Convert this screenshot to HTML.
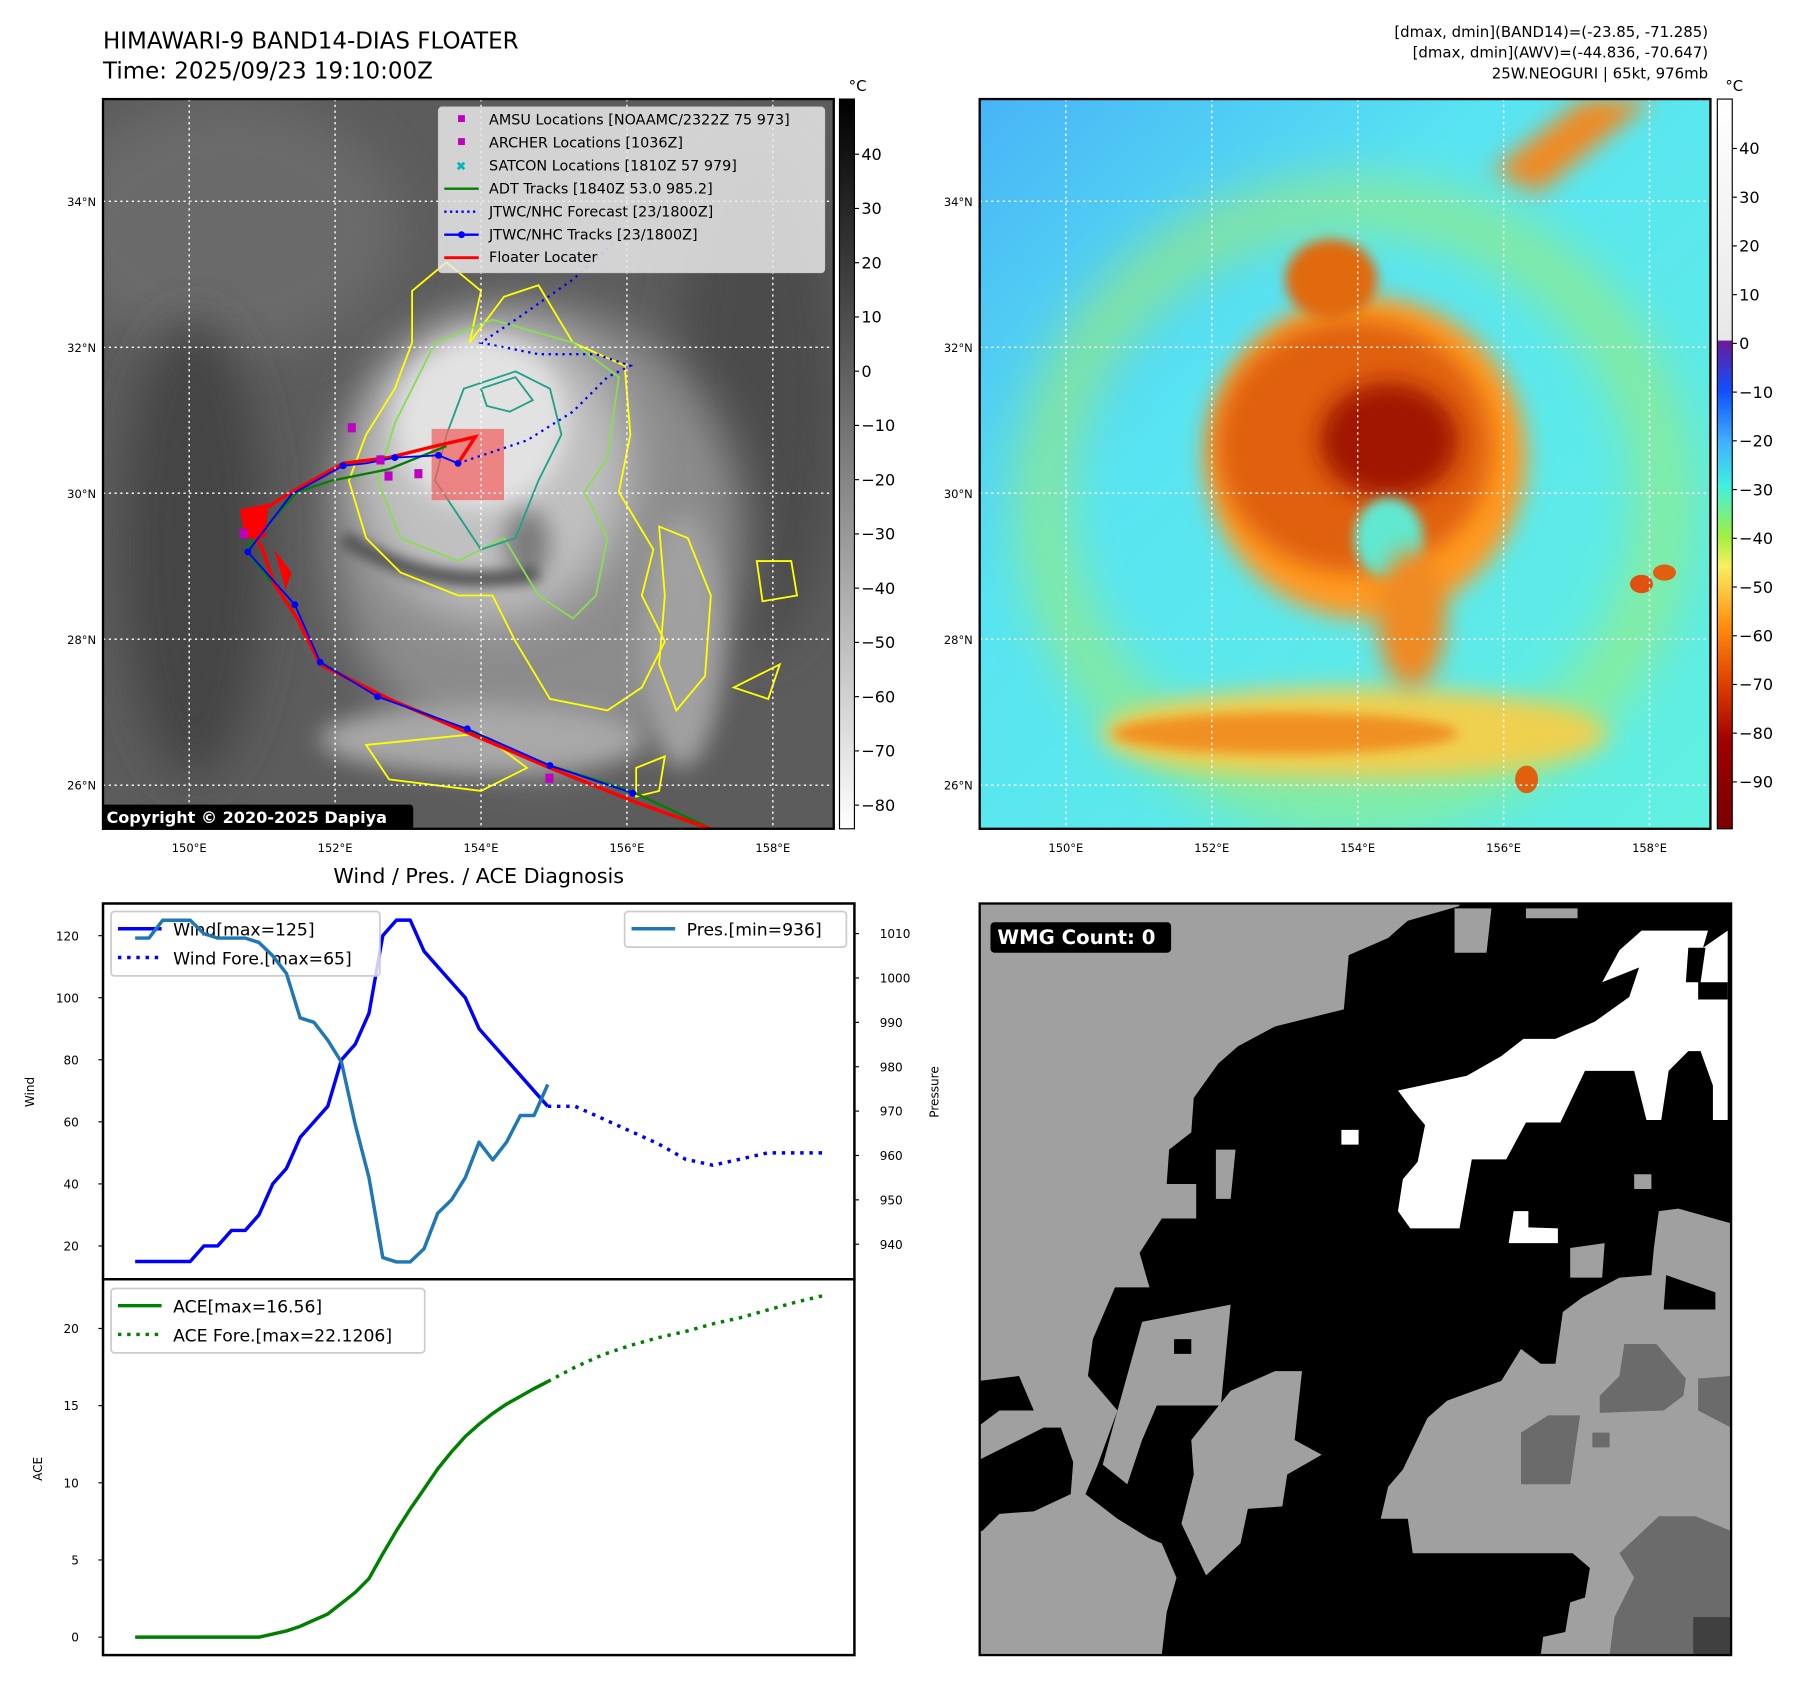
<!DOCTYPE html>
<html><head><meta charset="utf-8"><style>
html,body{margin:0;padding:0;background:#fff;}
svg{display:block;font-family:"DejaVu Sans","Liberation Sans",sans-serif;}
</style></head><body>
<svg id="root" width="1797" height="1690" viewBox="1.35 1.8 1564 1470.6" preserveAspectRatio="none" xmlns="http://www.w3.org/2000/svg">
<defs>
<filter id="b20" x="-50%" y="-50%" width="200%" height="200%"><feGaussianBlur stdDeviation="20"/></filter>
<filter id="b10" x="-50%" y="-50%" width="200%" height="200%"><feGaussianBlur stdDeviation="10"/></filter>
<filter id="b5" x="-50%" y="-50%" width="200%" height="200%"><feGaussianBlur stdDeviation="5"/></filter>
<clipPath id="clipL"><rect x="91" y="88" width="636" height="635"/></clipPath>
<clipPath id="clipR"><rect x="854" y="88" width="636" height="635"/></clipPath>
<linearGradient id="cbGray" x1="0" y1="0" x2="0" y2="1"><stop offset="0" stop-color="#000"/><stop offset="1" stop-color="#fff"/></linearGradient>
<linearGradient id="cbColor" x1="0" y1="0" x2="0" y2="1">
<stop offset="0" stop-color="#ffffff"/><stop offset="0.33" stop-color="#e8e8e8"/>
<stop offset="0.332" stop-color="#6a1a9a"/><stop offset="0.40" stop-color="#1050ff"/>
<stop offset="0.47" stop-color="#40b0ff"/><stop offset="0.53" stop-color="#40f0e0"/>
<stop offset="0.60" stop-color="#a0f040"/><stop offset="0.64" stop-color="#f8f060"/>
<stop offset="0.72" stop-color="#ff9010"/><stop offset="0.80" stop-color="#e04000"/>
<stop offset="0.88" stop-color="#a00000"/><stop offset="1" stop-color="#7a0000"/></linearGradient>
<linearGradient id="rbg" x1="0" y1="0" x2="1" y2="1"><stop offset="0" stop-color="#48b4f6"/><stop offset="0.35" stop-color="#58e4f2"/><stop offset="1" stop-color="#62f0e0"/></linearGradient>
</defs>

<text x="91" y="44" font-size="20">HIMAWARI-9 BAND14-DIAS FLOATER</text>
<text x="91" y="70" font-size="20">Time: 2025/09/23 19:10:00Z</text>
<g font-size="13" text-anchor="end">
<text x="1488" y="34">[dmax, dmin](BAND14)=(-23.85, -71.285)</text>
<text x="1488" y="52">[dmax, dmin](AWV)=(-44.836, -70.647)</text>
<text x="1488" y="70">25W.NEOGURI | 65kt, 976mb</text>
</g>

<g clip-path="url(#clipL)">
<rect x="91" y="88" width="636" height="635" fill="#5c5c5c"/>
<ellipse cx="200" cy="200" rx="150" ry="110" fill="#6a6a6a" filter="url(#b20)"/>
<ellipse cx="170" cy="480" rx="60" ry="200" fill="#454545" filter="url(#b20)"/>
<ellipse cx="660" cy="350" rx="70" ry="220" fill="#4c4c4c" filter="url(#b20)"/>
<ellipse cx="470" cy="470" rx="180" ry="200" fill="#8c8c8c" filter="url(#b20)"/>
<ellipse cx="430" cy="410" rx="120" ry="130" fill="#c0c0c0" filter="url(#b20)"/>
<ellipse cx="420" cy="370" rx="75" ry="75" fill="#e2e2e2" filter="url(#b10)"/>
<ellipse cx="460" cy="475" rx="20" ry="30" fill="#7a7a7a" filter="url(#b10)"/>
<path d="M300,470 Q380,520 470,500" stroke="#555" stroke-width="14" fill="none" filter="url(#b5)"/>
<ellipse cx="420" cy="645" rx="140" ry="30" fill="#a8a8a8" filter="url(#b10)"/>
<ellipse cx="595" cy="560" rx="35" ry="110" fill="#a0a0a0" filter="url(#b10)"/>
<g fill="none" stroke-width="1.6">
<path stroke="#ffff00" d="M360,255 L390,230 L420,255 L410,300 L440,260 L470,250 L500,300 L545,320 L550,380 L540,430 L570,480 L560,520 L580,560 L560,600 L530,620 L480,610 L450,560 L430,520 L400,520 L350,500 L320,470 L305,420 L320,380 L345,340 L360,300 Z"/>
<path stroke="#ffff00" d="M575,460 L600,470 L620,520 L615,590 L590,620 L575,580 L580,520 Z M660,490 L690,490 L695,520 L665,525 Z M640,600 L680,580 L670,610 Z M555,670 L580,660 L575,690 L555,695 Z M320,650 L420,640 L460,670 L420,690 L340,680 Z"/>
<path stroke="#88dd55" d="M380,300 L430,280 L500,300 L540,330 L530,400 L510,430 L530,470 L520,520 L500,540 L470,520 L440,470 L400,490 L350,470 L330,420 L345,370 Z"/>
<path stroke="#22a08a" d="M405,340 L450,325 L480,340 L490,380 L470,420 L450,470 L420,480 L400,450 L380,420 L390,380 Z M420,340 L450,330 L465,350 L445,360 L425,355 Z"/>
</g>
<path d="M377,375 H440 V437 H377 Z" fill="rgba(240,100,100,0.75)"/>
<polyline fill="none" stroke="#008000" stroke-width="2" points="625,725 550,690 480,668 405,636 330,606 280,578 255,530 215,480 260,430 290,420 340,410 390,390"/>
<polyline fill="none" stroke="#ff0000" stroke-width="3" points="625,725 555,700 480,670 410,640 340,610 280,580 260,540 240,510 230,480 215,455 255,430 300,405 340,400 380,390 415,382 400,405"/>
<path d="M210,445 L235,440 L232,470 L215,470 Z M240,480 L255,500 L250,515 Z" fill="#ff0000"/>
<polyline fill="none" stroke="#0000ff" stroke-width="1.6" points="552,692 480,668 408,636 330,608 280,578 258,528 217,482 255,432 300,407 320,405 345,400 383,398 400,405"/>
<g fill="#0000ff">
<circle cx="552" cy="692" r="3"/><circle cx="480" cy="668" r="3"/><circle cx="408" cy="636" r="3"/><circle cx="330" cy="608" r="3"/><circle cx="280" cy="578" r="3"/><circle cx="258" cy="528" r="3"/><circle cx="217" cy="482" r="3"/><circle cx="300" cy="407" r="3"/><circle cx="345" cy="400" r="3"/><circle cx="383" cy="398" r="3"/><circle cx="400" cy="405" r="3"/>
</g>
<polyline fill="none" stroke="#0000ff" stroke-width="2" stroke-dasharray="2,4" points="400,405 460,385 500,360 530,330 550,320 520,310 470,310 420,300 450,280 500,245 545,205"/>
<g fill="#c000c0">
<rect x="304" y="370" width="7" height="8"/><rect x="329" y="398" width="7" height="8"/><rect x="336" y="412" width="7" height="8"/><rect x="362" y="410" width="7" height="8"/><rect x="210" y="462" width="7" height="8"/><rect x="476" y="675" width="7" height="8"/>
</g>
<g stroke="#fff" stroke-width="1.2" stroke-dasharray="2,3">
<line x1="166" y1="88" x2="166" y2="723"/><line x1="293" y1="88" x2="293" y2="723"/><line x1="420" y1="88" x2="420" y2="723"/><line x1="547" y1="88" x2="547" y2="723"/><line x1="674" y1="88" x2="674" y2="723"/>
<line x1="91" y1="177" x2="727" y2="177"/><line x1="91" y1="304" x2="727" y2="304"/><line x1="91" y1="431" x2="727" y2="431"/><line x1="91" y1="558" x2="727" y2="558"/><line x1="91" y1="685" x2="727" y2="685"/>
</g>
<g>
<rect x="383" y="95" width="336" height="144" rx="3" fill="#e8e8e8" fill-opacity="0.85" stroke="#ccc"/>
<g font-size="12.5" fill="#000">
<rect x="400" y="102" width="6" height="6" fill="#c000c0"/><text x="427" y="110">AMSU Locations [NOAAMC/2322Z 75 973]</text>
<rect x="400" y="122" width="6" height="6" fill="#c000c0"/><text x="427" y="130">ARCHER Locations [1036Z]</text>
<text x="398" y="150" fill="#00b8b8" font-size="11" font-weight="bold">✖</text><text x="427" y="150">SATCON Locations [1810Z 57 979]</text>
<line x1="388" y1="166" x2="418" y2="166" stroke="#008000" stroke-width="2"/><text x="427" y="170">ADT Tracks [1840Z 53.0 985.2]</text>
<line x1="388" y1="186" x2="418" y2="186" stroke="#0000ff" stroke-width="2" stroke-dasharray="2,3"/><text x="427" y="190">JTWC/NHC Forecast [23/1800Z]</text>
<line x1="388" y1="206" x2="418" y2="206" stroke="#0000ff" stroke-width="2"/><circle cx="403" cy="206" r="3" fill="#0000ff"/><text x="427" y="210">JTWC/NHC Tracks [23/1800Z]</text>
<line x1="388" y1="226" x2="418" y2="226" stroke="#ff0000" stroke-width="2.5"/><text x="427" y="230">Floater Locater</text>
</g></g>
<rect x="89" y="702" width="272" height="22" rx="3" fill="#000"/>
<text x="94" y="718" font-size="14" font-weight="bold" fill="#fff">Copyright © 2020-2025 Dapiya</text>
</g>
<rect x="91" y="88" width="636" height="635" fill="none" stroke="#000" stroke-width="2"/>
<g font-size="10" text-anchor="middle">
<text x="166" y="743">150°E</text><text x="293" y="743">152°E</text><text x="420" y="743">154°E</text><text x="547" y="743">156°E</text><text x="674" y="743">158°E</text></g>
<g font-size="10" text-anchor="end">
<text x="85" y="181">34°N</text><text x="85" y="308">32°N</text><text x="85" y="435">30°N</text><text x="85" y="562">28°N</text><text x="85" y="689">26°N</text></g>

<rect x="732" y="88" width="13" height="635" fill="url(#cbGray)" stroke="#000" stroke-width="1"/>
<text x="740" y="81" font-size="13">°C</text>
<g id="cb1" font-size="14"></g>

<g clip-path="url(#clipR)">
<rect x="854" y="88" width="636" height="635" fill="url(#rbg)"/>
<ellipse cx="1180" cy="440" rx="270" ry="260" fill="none" stroke="#a8ec60" stroke-width="50" opacity="0.55" filter="url(#b20)"/>
<ellipse cx="1180" cy="640" rx="220" ry="40" fill="#f0d050" filter="url(#b10)"/>
<ellipse cx="1120" cy="640" rx="150" ry="18" fill="#f09020" filter="url(#b5)"/>
<ellipse cx="1190" cy="400" rx="140" ry="140" fill="#ff9a20" filter="url(#b10)"/>
<ellipse cx="1180" cy="390" rx="120" ry="110" fill="#e06010" filter="url(#b10)"/>
<ellipse cx="1210" cy="385" rx="60" ry="50" fill="#a01800" filter="url(#b10)"/>
<ellipse cx="1160" cy="245" rx="40" ry="35" fill="#e06a10" filter="url(#b5)"/>
<ellipse cx="1210" cy="470" rx="30" ry="35" fill="#60e8d0" filter="url(#b5)"/>
<ellipse cx="1230" cy="540" rx="30" ry="60" fill="#f08a20" filter="url(#b10)"/>
<ellipse cx="1430" cy="510" rx="10" ry="8" fill="#e05010"/><ellipse cx="1330" cy="680" rx="10" ry="12" fill="#e06010"/><ellipse cx="1450" cy="500" rx="10" ry="7" fill="#e06010"/>
<path d="M1300,150 L1380,88 L1440,88 L1340,170 Z" fill="#f08a20" filter="url(#b10)"/>
<g stroke="#fff" stroke-width="1.2" stroke-dasharray="2,3">
<line x1="929" y1="88" x2="929" y2="723"/><line x1="1056" y1="88" x2="1056" y2="723"/><line x1="1183" y1="88" x2="1183" y2="723"/><line x1="1310" y1="88" x2="1310" y2="723"/><line x1="1437" y1="88" x2="1437" y2="723"/>
<line x1="854" y1="177" x2="1490" y2="177"/><line x1="854" y1="304" x2="1490" y2="304"/><line x1="854" y1="431" x2="1490" y2="431"/><line x1="854" y1="558" x2="1490" y2="558"/><line x1="854" y1="685" x2="1490" y2="685"/>
</g></g>
<rect x="854" y="88" width="636" height="635" fill="none" stroke="#000" stroke-width="2"/>
<g font-size="10" text-anchor="middle">
<text x="929" y="743">150°E</text><text x="1056" y="743">152°E</text><text x="1183" y="743">154°E</text><text x="1310" y="743">156°E</text><text x="1437" y="743">158°E</text></g>
<g font-size="10" text-anchor="end">
<text x="848" y="181">34°N</text><text x="848" y="308">32°N</text><text x="848" y="435">30°N</text><text x="848" y="562">28°N</text><text x="848" y="689">26°N</text></g>
<rect x="1496" y="88" width="13" height="635" fill="url(#cbColor)" stroke="#000" stroke-width="1"/>
<text x="1503" y="81" font-size="13">°C</text>
<g id="cb2" font-size="14"></g>

<g transform="translate(854,788) scale(0.4283)">
<rect x="0" y="0" width="1527" height="1527" fill="#a0a0a0"/>
<path fill="#000" d="M975,0 L975,5 L870,35 L830,70 L750,105 L740,215 L600,250 L525,290 L485,325 L435,395 L430,465 L385,500 L380,570 L440,570 L440,640 L370,640 L325,710 L345,780 L275,780 L230,885 L220,960 L280,1030 L240,1140 L215,1200 L280,1250 L345,1290 L370,1300 L400,1370 L380,1440 L370,1527 L1140,1527 L1145,1490 L1190,1480 L1200,1420 L1230,1410 L1240,1350 L1205,1320 L880,1320 L870,1250 L815,1250 L830,1185 L860,1150 L910,1045 L950,1010 L1060,970 L1100,905 L1140,935 L1170,935 L1185,830 L1225,800 L1300,760 L1365,755 L1370,700 L1380,625 L1420,620 L1527,650 L1527,0 Z"/>
<path fill="#000" d="M0,970 L80,960 L110,1030 L40,1030 L0,1060 Z M0,1130 L60,1100 L130,1065 L165,1065 L190,1135 L185,1200 L110,1235 L40,1240 L5,1275 L0,1275 Z"/>
<path fill="#a0a0a0" d="M330,850 L510,815 L490,1020 L360,1020 L330,1090 L300,1180 L250,1140 L280,1030 Z M430,1090 L510,990 L600,950 L655,950 L640,1090 L695,1120 L625,1160 L615,1225 L545,1230 L530,1300 L460,1365 L410,1260 L435,1160 Z M1200,700 L1270,690 L1265,760 L1200,760 Z M1330,550 L1365,550 L1365,580 L1330,580 Z M965,10 L1040,10 L1030,100 L965,100 Z M1110,10 L1215,10 L1215,30 L1110,30 Z M480,500 L520,500 L510,600 L480,600 Z"/>
<path fill="#000" d="M395,885 L430,885 L430,915 L395,915 Z M1395,755 L1495,790 L1495,825 L1390,825 Z"/>
<path fill="#fff" d="M850,380 L990,350 L1060,310 L1105,275 L1170,275 L1250,240 L1320,190 L1340,130 L1265,160 L1300,95 L1345,55 L1480,55 L1470,90 L1520,55 L1520,440 L1490,440 L1490,370 L1465,300 L1440,300 L1400,340 L1385,440 L1355,440 L1330,340 L1230,340 L1180,445 L1110,445 L1070,520 L1000,520 L975,660 L875,660 L850,625 L860,560 L890,525 L905,450 L880,420 Z M735,460 L770,460 L770,490 L735,490 Z M1085,625 L1115,625 L1115,658 L1175,660 L1175,690 L1075,690 Z"/>
<path fill="#000" d="M1440,90 L1475,90 L1465,160 L1435,160 Z M1460,160 L1520,160 L1520,195 L1460,195 Z"/>
<path fill="#6b6b6b" d="M1310,895 L1375,895 L1435,965 L1430,1000 L1390,1030 L1260,1035 L1260,1000 L1300,960 Z M1100,1075 L1155,1040 L1220,1040 L1200,1180 L1100,1180 Z M1460,965 L1527,960 L1527,1065 L1460,1030 Z M1300,1320 L1380,1245 L1455,1245 L1527,1275 L1527,1527 L1280,1527 L1290,1450 L1330,1370 Z M1245,1075 L1280,1075 L1280,1105 L1245,1105 Z"/>
<path fill="#404040" d="M1450,1450 L1527,1450 L1527,1527 L1450,1527 Z"/>
<rect x="22" y="38" width="367" height="62" rx="8" fill="#000"/>
<text x="36" y="82" font-size="40" font-weight="bold" fill="#fff">WMG Count: 0</text>
</g>
<rect x="854" y="788" width="654" height="654" fill="none" stroke="#000" stroke-width="2"/>

<text x="418" y="770" font-size="18" text-anchor="middle">Wind / Pres. / ACE Diagnosis</text>
<g id="chart"></g>
</svg>
<script>
const obsIdx = [0,1,2,3,4,5,6,7,8,9,10,11,12,13,14,15,16,17,18,19,20,21,22,23,24,25,26,27,28,29,30];
const windObs = [15,15,15,15,15,20,20,25,25,30,40,45,55,60,65,80,85,95,120,125,125,115,110,105,100,90,85,80,75,70,65];
const presObs = [1009,1009,1013,1013,1013,1010,1009,1009,1009,1008,1005,1001,991,990,986,981,967,955,937,936,936,939,947,950,955,963,959,963,969,969,976];
const aceObs = [0,0,0,0,0,0,0,0,0,0,0.2,0.4,0.7,1.1,1.5,2.2,2.9,3.8,5.4,6.9,8.3,9.6,10.9,12.0,13.0,13.8,14.5,15.1,15.6,16.1,16.56];
const foreIdx = [30,32,34,36,38,40,42,44,46,48,50];
const windFore = [65,65,61,57,53,48,46,48,50,50,50];
const aceFore = [16.56,17.5,18.3,18.9,19.4,19.8,20.3,20.7,21.2,21.7,22.12];
const windTicks = [20,40,60,80,100,120];
const presTicks = [940,950,960,970,980,990,1000,1010];
const aceTicks = [0,5,10,15,20];
const cb1Ticks = [40,30,20,10,0,-10,-20,-30,-40,-50,-60,-70,-80];
const cb2Ticks = [40,30,20,10,0,-10,-20,-30,-40,-50,-60,-70,-80,-90];

const NS='http://www.w3.org/2000/svg';
function mk(tag,attrs,parent,txt){const e=document.createElementNS(NS,tag);for(const k in attrs)e.setAttribute(k,attrs[k]);if(txt!==undefined)e.textContent=txt;parent.appendChild(e);return e;}
const L=91,R=745,T1=788,B1=1115,T2=1115,B2=1442;
const xS=i=>119+(i-0)*11.97;
const yW=v=>1086-(v-20)*(270/100);
const yP=v=>1084.5-(v-940)*(270.3/70);
const yA=v=>1426.4-(v-0)*(268.6/20);
const g=document.getElementById('chart');
function pts(xs,ys,fy){return xs.map((x,i)=>xS(x).toFixed(1)+','+fy(ys[i]).toFixed(1)).join(' ');}

let f1=mk('rect',{x:L,y:T1,width:R-L,height:B1-T1,fill:'#fff',stroke:'#000','stroke-width':2},g);


let f2=mk('rect',{x:L,y:T2,width:R-L,height:B2-T2,fill:'#fff',stroke:'#000','stroke-width':2},g);



windTicks.forEach(v=>{const y=yW(v);
 mk('line',{x1:L-4,y1:y,x2:L,y2:y,stroke:'#000'},g);
 const t=mk('text',{x:L-21,y:y+4,'font-size':10.5,'text-anchor':'end'},g,String(v));
 
 });
presTicks.forEach(v=>{const y=yP(v);
 mk('line',{x1:R,y1:y,x2:R+4,y2:y,stroke:'#000'},g);
 const t=mk('text',{x:R+22,y:y+4,'font-size':10.5},g,String(v));
 
 });
aceTicks.forEach(v=>{const y=yA(v);
 mk('line',{x1:L-4,y1:y,x2:L,y2:y,stroke:'#000'},g);
 const t=mk('text',{x:L-21,y:y+4,'font-size':10.5,'text-anchor':'end'},g,String(v));
 
 });
let a1=mk('text',{x:31,y:952,'font-size':10.5,'text-anchor':'middle',transform:'rotate(-90 31 952)'},g,'Wind');


let a2=mk('text',{x:818,y:952,'font-size':10.5,'text-anchor':'middle',transform:'rotate(-90 818 952)'},g,'Pressure');


let a3=mk('text',{x:38,y:1280,'font-size':10.5,'text-anchor':'middle',transform:'rotate(-90 38 1280)'},g,'ACE');



let wl=mk('polyline',{points:pts(obsIdx,windObs,yW),fill:'none',stroke:'#0000ff','stroke-width':3,'stroke-linejoin':'round'},g);


let wf=mk('polyline',{points:pts(foreIdx,windFore,yW),fill:'none',stroke:'#0000ff','stroke-width':3,'stroke-dasharray':'3,5'},g);


let lg=mk('g',{},g);


mk('rect',{x:98,y:795,width:234,height:56,rx:3,fill:'#fff','fill-opacity':0.8,stroke:'#ccc','stroke-width':1.5},lg);
mk('line',{x1:104,y1:810,x2:142,y2:810,stroke:'#0000ff','stroke-width':3},lg);
mk('text',{x:152,y:816,'font-size':15},lg,'Wind[max=125]');
mk('line',{x1:104,y1:835,x2:142,y2:835,stroke:'#0000ff','stroke-width':3,'stroke-dasharray':'3,5'},lg);
mk('text',{x:152,y:841,'font-size':15},lg,'Wind Fore.[max=65]');
let pl=mk('polyline',{points:pts(obsIdx,presObs,yP),fill:'none',stroke:'#1f77b4','stroke-width':3,'stroke-linejoin':'round'},g);


let pg=mk('g',{},g);


mk('rect',{x:545,y:795,width:193,height:31,rx:3,fill:'#fff','fill-opacity':0.8,stroke:'#ccc','stroke-width':1.5},pg);
mk('line',{x1:551,y1:810,x2:589,y2:810,stroke:'#1f77b4','stroke-width':3},pg);
mk('text',{x:599,y:816,'font-size':15},pg,'Pres.[min=936]');
let al=mk('polyline',{points:pts(obsIdx,aceObs,yA),fill:'none',stroke:'#008000','stroke-width':3,'stroke-linejoin':'round'},g);


let af=mk('polyline',{points:pts(foreIdx,aceFore,yA),fill:'none',stroke:'#008000','stroke-width':3,'stroke-dasharray':'3,5'},g);


let ag=mk('g',{},g);


mk('rect',{x:98,y:1123,width:273,height:56,rx:3,fill:'#fff','fill-opacity':0.8,stroke:'#ccc','stroke-width':1.5},ag);
mk('line',{x1:104,y1:1138,x2:142,y2:1138,stroke:'#008000','stroke-width':3},ag);
mk('text',{x:152,y:1144,'font-size':15},ag,'ACE[max=16.56]');
mk('line',{x1:104,y1:1163,x2:142,y2:1163,stroke:'#008000','stroke-width':3,'stroke-dasharray':'3,5'},ag);
mk('text',{x:152,y:1169,'font-size':15},ag,'ACE Fore.[max=22.1206]');
mk('rect',{x:L,y:T1,width:R-L,height:B2-T1,fill:'none',stroke:'#000','stroke-width':2},g);
mk('line',{x1:L,y1:T2,x2:R,y2:T2,stroke:'#000','stroke-width':2},g);

const cb1=document.getElementById('cb1');
cb1Ticks.forEach((v,i)=>{const y=136+i*47.2;
 mk('line',{x1:745,y1:y,x2:749,y2:y,stroke:'#000'},cb1);
 const t=mk('text',{x:751,y:y+5},cb1,v<0?'\u2212'+(-v):String(v));
 
 });
const cb2=document.getElementById('cb2');
cb2Ticks.forEach((v,i)=>{const y=131+i*42.4;
 mk('line',{x1:1509,y1:y,x2:1513,y2:y,stroke:'#000'},cb2);
 const t=mk('text',{x:1515,y:y+5},cb2,v<0?'\u2212'+(-v):String(v));
 
 });
</script>
</body></html>
